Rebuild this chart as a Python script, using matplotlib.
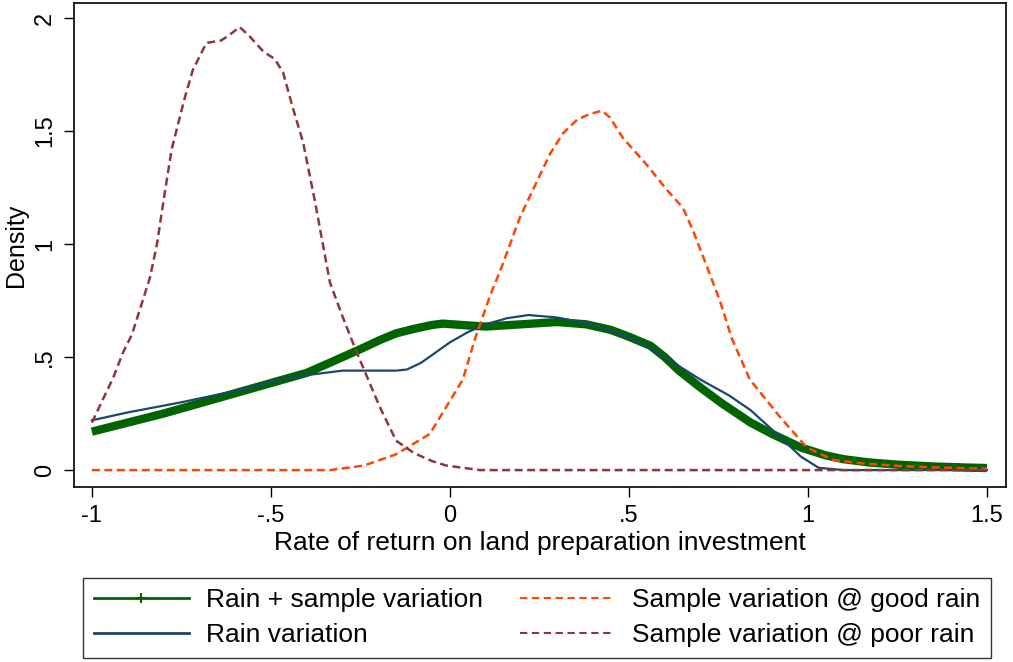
import numpy as np
import matplotlib.pyplot as plt
from matplotlib.lines import Line2D

plt.rcParams['font.family'] = ['Liberation Sans', 'DejaVu Sans']

# Rain + sample variation
x_both = [-1.0, -0.9, -0.8, -0.7, -0.6, -0.5, -0.4, -0.335, -0.25, -0.196, -0.15, -0.1, -0.05, -0.02, 0.05,
          0.1, 0.2, 0.3, 0.38, 0.45, 0.5, 0.56, 0.6, 0.64, 0.7, 0.76, 0.84, 0.9, 0.98, 1.05, 1.1, 1.17,
          1.25, 1.35, 1.45, 1.5]
y_both = [0.17, 0.21, 0.25, 0.295, 0.34, 0.385, 0.43, 0.475, 0.535, 0.575, 0.605, 0.625, 0.642, 0.648, 0.64,
          0.635, 0.645, 0.655, 0.645, 0.62, 0.59, 0.55, 0.50, 0.44, 0.365, 0.295, 0.21, 0.16, 0.10, 0.065,
          0.048, 0.034, 0.024, 0.016, 0.011, 0.009]

# Rain variation
x_rain = [-1.0, -0.9, -0.75, -0.6, -0.475, -0.4, -0.3, -0.2, -0.15, -0.12, -0.08, -0.04, 0.0, 0.05, 0.1,
          0.16, 0.22, 0.3, 0.41, 0.5, 0.55, 0.64, 0.7, 0.78, 0.84, 0.92, 0.98, 1.03, 1.1, 1.2, 1.5]
y_rain = [0.22, 0.255, 0.30, 0.35, 0.40, 0.42, 0.44, 0.44, 0.44, 0.445, 0.475, 0.52, 0.565, 0.61, 0.645,
          0.672, 0.686, 0.675, 0.64, 0.585, 0.55, 0.46, 0.40, 0.33, 0.265, 0.15, 0.06, 0.01, 0.0, 0.0, 0.0]

# Sample variation @ good rain
x_good = [-1.0, -0.4, -0.335, -0.24, -0.15, -0.056, 0.036, 0.07, 0.112, 0.145, 0.196, 0.223, 0.28, 0.316,
          0.355, 0.39, 0.425, 0.447, 0.483, 0.511, 0.55, 0.606, 0.651, 0.679, 0.718, 0.754, 0.788, 0.838,
          0.922, 0.997, 1.07, 1.15, 1.257, 1.35, 1.5]
y_good = [0.0, 0.0, 0.0, 0.02, 0.07, 0.16, 0.40, 0.58, 0.77, 0.90, 1.12, 1.21, 1.40, 1.49,
          1.55, 1.575, 1.59, 1.56, 1.47, 1.42, 1.35, 1.24, 1.16, 1.06, 0.90, 0.75, 0.58, 0.40,
          0.235, 0.10, 0.045, 0.03, 0.018, 0.012, 0.006]

# Sample variation @ poor rain
x_poor = [-1.0, -0.94, -0.913, -0.888, -0.86, -0.838, -0.818, -0.8, -0.777, -0.74, -0.718, -0.68, -0.64,
          -0.62, -0.587, -0.56, -0.52, -0.49, -0.466, -0.44, -0.41, -0.377, -0.335, -0.3, -0.26, -0.196,
          -0.15, -0.1, -0.05, -0.01, 0.084, 0.5, 1.0, 1.5]
y_poor = [0.21, 0.41, 0.52, 0.60, 0.74, 0.85, 1.0, 1.19, 1.42, 1.65, 1.77, 1.89, 1.90,
          1.92, 1.96, 1.92, 1.85, 1.82, 1.76, 1.61, 1.45, 1.19, 0.83, 0.68, 0.52, 0.28,
          0.13, 0.075, 0.04, 0.02, 0.0, 0.0, 0.0, 0.0]

x_ticks = [-1, -0.5, 0, 0.5, 1, 1.5]
x_ticklabels = ['-1', '-.5', '0', '.5', '1', '1.5']
y_ticks = [0, 0.5, 1, 1.5, 2]
y_ticklabels = ['0', '.5', '1', '1.5', '2']

c_both = '#006400'
c_rain = '#1a476f'
c_good = '#ff4500'
c_poor = '#90353b'

fig = plt.figure(figsize=(10.13, 6.62), dpi=100)
ax = fig.add_axes([0.073, 0.2643, 0.92, 0.731])

ax.plot(x_both, y_both, color=c_both, lw=6, solid_capstyle='butt', solid_joinstyle='round')
ax.plot(x_rain, y_rain, color=c_rain, lw=1.6)
ax.plot(x_good, y_good, color=c_good, lw=1.8, dashes=(3.2, 1.8))
ax.plot(x_poor, y_poor, color=c_poor, lw=1.8, dashes=(3.2, 1.8))

ax.set_xlim(-1.05, 1.553)
ax.set_ylim(-0.075, 2.066)
ax.set_xticks(x_ticks)
ax.set_xticklabels(x_ticklabels, fontsize=17)
ax.set_yticks(y_ticks)
ax.set_yticklabels(y_ticklabels, fontsize=17, rotation=90, va='center')
ax.tick_params(length=7, width=1, direction='out', pad=6)
for s in ax.spines.values():
    s.set_linewidth(1.2)
ax.set_xlabel('Rate of return on land preparation investment', fontsize=19, labelpad=3)
ax.set_ylabel('Density', fontsize=18, labelpad=4)

# green handle with a small "+" in the middle
h_both = Line2D([0, 1, 2], [0, 0, 0], color=c_both, lw=2, marker='+', markersize=7,
                markevery=[1], markeredgewidth=1.5)
h_rain = Line2D([], [], color=c_rain, lw=2)
h_good = Line2D([], [], color=c_good, lw=1.5, dashes=(3.5, 2.2))
h_poor = Line2D([], [], color=c_poor, lw=1.5, dashes=(3.5, 2.2))

handles = [h_both, h_rain, h_good, h_poor]
labels = ['Rain + sample variation', 'Rain variation',
          'Sample variation @ good rain', 'Sample variation @ poor rain']

leg = fig.legend(handles, labels, ncol=2, loc='lower left', bbox_to_anchor=(0.082, 0.006),
                 fontsize=19, frameon=True, fancybox=False, edgecolor='black',
                 handlelength=3.6, handletextpad=0.65, labelspacing=0.42, columnspacing=1.4,
                 borderpad=0.4, borderaxespad=0)
leg.get_frame().set_linewidth(1.0)

fig.savefig('out.png', dpi=100)
